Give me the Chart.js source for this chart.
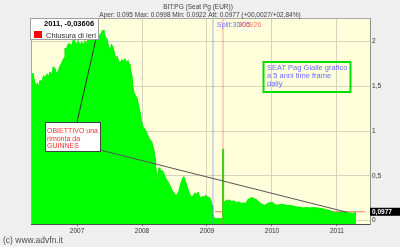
<!DOCTYPE html>
<html>
<head>
<meta charset="utf-8">
<script src="https://cdn.jsdelivr.net/npm/chart.js@4.4.0/dist/chart.umd.min.js"></script>
<style>
  html, body { margin: 0; padding: 0; background: #efefef; }
  canvas { display: block; }
</style>
</head>
<body>
<canvas id="myChart" width="400" height="247"></canvas>
<script>
// Daily closes of BIT:PG (decimal years / EUR)
let dates = [2006.292, 2006.31, 2006.323, 2006.345, 2006.369, 2006.39, 2006.41, 2006.431, 2006.46, 2006.485,
  2006.508, 2006.54, 2006.56, 2006.585, 2006.61, 2006.635, 2006.662, 2006.685, 2006.708, 2006.74,
  2006.769, 2006.8, 2006.815, 2006.831, 2006.86, 2006.892, 2006.92, 2006.945, 2006.969, 2007.0,
  2007.02, 2007.046, 2007.07, 2007.1, 2007.123, 2007.15, 2007.175, 2007.2, 2007.225, 2007.25,
  2007.277, 2007.3, 2007.325, 2007.354, 2007.38, 2007.4, 2007.415, 2007.44, 2007.462, 2007.485,
  2007.508, 2007.53, 2007.554, 2007.58, 2007.6, 2007.615, 2007.64, 2007.662, 2007.69, 2007.715,
  2007.738, 2007.76, 2007.785, 2007.8, 2007.815, 2007.83, 2007.846, 2007.86, 2007.877, 2007.9,
  2007.923, 2007.945, 2007.969, 2007.99, 2008.015, 2008.04, 2008.062, 2008.085, 2008.108, 2008.13,
  2008.154, 2008.17, 2008.185, 2008.2, 2008.208, 2008.22, 2008.231, 2008.245, 2008.262, 2008.275,
  2008.292, 2008.315, 2008.338, 2008.36, 2008.385, 2008.41, 2008.431, 2008.455, 2008.477, 2008.5,
  2008.523, 2008.545, 2008.569, 2008.59, 2008.615, 2008.63, 2008.646, 2008.66, 2008.677, 2008.7,
  2008.723, 2008.745, 2008.769, 2008.79, 2008.815, 2008.84, 2008.862, 2008.885, 2008.908, 2008.93,
  2008.954, 2008.975, 2009.0, 2009.025, 2009.046, 2009.065, 2009.077, 2009.088, 2009.1, 2009.15,
  2009.2, 2009.235, 2009.24, 2009.25, 2009.255, 2009.277, 2009.3, 2009.33, 2009.354, 2009.38,
  2009.41, 2009.431, 2009.46, 2009.485, 2009.508, 2009.54, 2009.56, 2009.585, 2009.61, 2009.635,
  2009.662, 2009.685, 2009.708, 2009.74, 2009.769, 2009.79, 2009.815, 2009.85, 2009.892, 2009.93,
  2009.969, 2010.015, 2010.045, 2010.077, 2010.12, 2010.169, 2010.22, 2010.277, 2010.33, 2010.385,
  2010.43, 2010.477, 2010.53, 2010.585, 2010.64, 2010.692, 2010.74, 2010.785, 2010.84, 2010.892,
  2010.93, 2010.969, 2011.0, 2011.046, 2011.08, 2011.123, 2011.16, 2011.2, 2011.25, 2011.292];
let prices = [1.68, 1.62, 1.65, 1.56, 1.50, 1.54, 1.49, 1.57, 1.55, 1.62,
  1.60, 1.64, 1.61, 1.66, 1.63, 1.72, 1.70, 1.64, 1.67, 1.73,
  1.77, 1.82, 1.93, 1.90, 1.97, 1.98, 1.95, 2.03, 2.00, 1.97,
  2.01, 1.95, 2.00, 1.96, 2.01, 1.98, 2.04, 2.01, 2.05, 2.02,
  2.06, 2.04, 2.09, 2.07, 2.11, 2.13, 2.10, 2.05, 2.03, 1.95,
  1.90, 1.97, 1.94, 1.86, 1.81, 1.84, 1.79, 1.76, 1.80, 1.78,
  1.81, 1.77, 1.79, 1.75, 1.73, 1.66, 1.62, 1.50, 1.43, 1.40,
  1.37, 1.30, 1.22, 1.12, 1.05, 1.03, 1.00, 0.96, 0.92, 0.90,
  0.87, 0.83, 0.78, 0.70, 0.62, 0.55, 0.47, 0.52, 0.59, 0.57,
  0.55, 0.56, 0.52, 0.48, 0.45, 0.42, 0.39, 0.35, 0.32, 0.30,
  0.28, 0.30, 0.33, 0.40, 0.45, 0.48, 0.49, 0.46, 0.42, 0.37,
  0.32, 0.28, 0.26, 0.28, 0.31, 0.29, 0.32, 0.27, 0.25, 0.27,
  0.26, 0.28, 0.27, 0.26, 0.25, 0.21, 0.17, 0.10, 0.03, 0.02,
  0.02, 0.02, 0.80, 0.80, 0.21, 0.21, 0.23, 0.22, 0.23, 0.21,
  0.22, 0.21, 0.20, 0.21, 0.20, 0.19, 0.20, 0.19, 0.21, 0.24,
  0.24, 0.26, 0.25, 0.24, 0.23, 0.21, 0.20, 0.18, 0.17, 0.19,
  0.20, 0.20, 0.18, 0.17, 0.18, 0.18, 0.17, 0.17, 0.16, 0.15,
  0.15, 0.14, 0.145, 0.14, 0.145, 0.14, 0.135, 0.13, 0.12, 0.11,
  0.10, 0.085, 0.09, 0.09, 0.095, 0.095, 0.09, 0.085, 0.08, 0.0977];

// hand drawn lines on the original chart
let trendX = [2007.354, 2011.15];
let trendY = [0.789, 0.093];
let leaderX = [2007.323, 2007.0];
let leaderY = [2.131, 1.10];
let closeX = [2009.123, 2011.431];
let lastClose = 0.0977;
let splitDate = 2009.092;
let markDate = 2009.246;

let xTicks = [2007, 2008, 2009, 2010, 2011];
let yTicks = [0, 0.5, 1, 1.5, 2];
let yMin = -0.039;
let yMax = 2.265;

function pts(xs, ys) {
  return xs.map((x, i) => ({ x: x, y: ys[i] }));
}

// background + annotations drawn straight on the canvas
const advfnPlugin = {
  id: 'advfn',
  beforeDraw(chart) {
    const ctx = chart.ctx;
    const a = chart.chartArea;
    ctx.save();
    ctx.fillStyle = '#efefef';
    ctx.fillRect(0, 0, chart.width, chart.height);
    ctx.fillStyle = '#ffffdc';
    ctx.fillRect(a.left, a.top, a.right - a.left, a.bottom - a.top);
    ctx.restore();
  },
  afterDraw(chart) {
    const ctx = chart.ctx;
    const a = chart.chartArea;
    const ys = chart.scales.y;
    ctx.save();
    // frame top/left
    ctx.strokeStyle = '#a8a8a8';
    ctx.lineWidth = 1;
    ctx.beginPath();
    ctx.moveTo(a.left + 0.5, a.bottom);
    ctx.lineTo(a.left + 0.5, a.top + 0.5);
    ctx.lineTo(a.right, a.top + 0.5);
    ctx.stroke();

    // titles
    ctx.fillStyle = '#404040';
    ctx.textAlign = 'center';
    ctx.textBaseline = 'alphabetic';
    ctx.font = '6.5px "Liberation Sans", Arial, sans-serif';
    ctx.fillText('BIT:PG (Seat Pg (EUR))', 198, 8.5);
    ctx.fillText('Aper: 0.095 Max: 0.0998 Min: 0.0922 Att: 0.0977 (+00,0027/+02,84%)', 200, 16.5);

    // footer
    ctx.textAlign = 'left';
    ctx.fillStyle = '#505050';
    ctx.font = '8.5px "Liberation Sans", Arial, sans-serif';
    ctx.fillText('(c) www.advfn.it', 3, 243);

    // legend box
    ctx.fillStyle = '#ffffff';
    ctx.fillRect(30, 18, 69, 22);
    ctx.strokeStyle = '#a0a0a0';
    ctx.strokeRect(30.5, 18.5, 68, 21);
    ctx.fillStyle = '#000000';
    ctx.font = 'bold 7.5px "Liberation Sans", Arial, sans-serif';
    ctx.fillText('2011, -0,03606', 44, 26);
    ctx.fillStyle = '#ff0000';
    ctx.fillRect(34, 31, 8, 7);
    ctx.fillStyle = '#303030';
    ctx.font = '7.5px "Liberation Sans", Arial, sans-serif';
    ctx.fillText('Chiusura di ieri', 46, 37.5);

    // split labels
    ctx.font = '7px "Liberation Sans", Arial, sans-serif';
    ctx.fillStyle = '#7070ff';
    ctx.fillText('Split:30/05', 217, 27);
    ctx.globalAlpha = 0.8;
    ctx.fillStyle = '#ff5050';
    ctx.fillText('30/5/26', 238, 27);
    ctx.globalAlpha = 1;

    // OBIETTIVO note
    ctx.fillStyle = '#ffffff';
    ctx.fillRect(45, 122, 56, 30);
    ctx.strokeStyle = '#404040';
    ctx.strokeRect(45.5, 122.5, 55, 29);
    ctx.fillStyle = '#ff3030';
    ctx.font = '7px "Liberation Sans", Arial, sans-serif';
    ctx.fillText('OBIETTIVO una', 47, 133);
    ctx.fillText('rimonta da', 47, 140.7);
    ctx.fillText('GUINNES', 47, 148.3);

    // SEAT note
    ctx.strokeStyle = '#00e000';
    ctx.lineWidth = 2;
    ctx.strokeRect(263.5, 62, 87, 30);
    ctx.fillStyle = '#6a6aff';
    ctx.font = '7.5px "Liberation Sans", Arial, sans-serif';
    ctx.fillText('SEAT Pag Gialle grafico', 267, 70);
    ctx.fillText('a 5 anni time frame', 267, 78);
    ctx.fillText('daily', 267, 86);

    // last price tag
    const yp = ys.getPixelForValue(lastClose);
    ctx.fillStyle = '#000000';
    ctx.fillRect(a.right, yp - 4, 30, 8);
    ctx.fillStyle = '#ffffff';
    ctx.font = 'bold 6.5px "Liberation Sans", Arial, sans-serif';
    ctx.textBaseline = 'middle';
    ctx.fillText(String(lastClose).replace('.', ','), a.right + 2, yp + 0.5);
    ctx.restore();
  }
};

const ctx = document.getElementById('myChart').getContext('2d');

const myChart = new Chart(ctx, {
  type: 'line',
  data: {
    datasets: [
      {
        // yesterday close, hidden behind the area
        data: pts(closeX, [lastClose, lastClose]),
        borderColor: '#ff7070',
        borderWidth: 1,
        pointRadius: 0,
        order: 20
      },
      {
        data: pts(dates, prices),
        borderColor: '#00f000',
        borderWidth: 1,
        backgroundColor: '#00ff00',
        fill: 'start',
        pointRadius: 0,
        tension: 0,
        order: 10
      },
      {
        data: pts([splitDate, splitDate], [yMin, yMax]),
        borderColor: 'rgba(120,120,255,0.6)',
        borderWidth: 1,
        pointRadius: 0,
        order: 5
      },
      {
        data: pts([markDate, markDate], [yMin, yMax]),
        borderColor: 'rgba(255,100,100,0.6)',
        borderWidth: 1,
        pointRadius: 0,
        order: 5
      },
      {
        data: pts(trendX, trendY),
        borderColor: '#555555',
        borderWidth: 1,
        pointRadius: 0,
        order: 1
      },
      {
        data: pts(leaderX, leaderY),
        borderColor: '#303030',
        borderWidth: 1,
        pointRadius: 0,
        order: 1
      }
    ]
  },
  options: {
    responsive: false,
    animation: false,
    devicePixelRatio: 1,
    layout: { padding: { left: 31, top: 18, right: 0, bottom: 0 } },
    plugins: {
      legend: { display: false },
      tooltip: { enabled: false },
      title: { display: false }
    },
    scales: {
      x: {
        type: 'linear',
        min: 2006.292,
        max: 2011.508,
        afterBuildTicks: (scale) => { scale.ticks = xTicks.map(v => ({ value: v })); },
        afterFit: (scale) => { scale.height = 23; },
        ticks: {
          callback: (v) => String(v),
          color: '#303030',
          font: { size: 6.5, family: '"Liberation Sans", Arial, sans-serif' },
          padding: 1,
          maxRotation: 0
        },
        grid: { color: '#d6d4c0', tickLength: 2, tickColor: '#606060' },
        border: { color: '#505050' }
      },
      y: {
        position: 'right',
        min: yMin,
        max: yMax,
        afterBuildTicks: (scale) => { scale.ticks = yTicks.map(v => ({ value: v })); },
        afterFit: (scale) => { scale.width = 30; },
        ticks: {
          callback: (v) => String(v).replace('.', ','),
          color: '#303030',
          font: { size: 6.5, family: '"Liberation Sans", Arial, sans-serif' },
          padding: 2
        },
        grid: { color: '#d6d4c0', drawTicks: false },
        border: { color: '#909090' }
      }
    }
  },
  plugins: [advfnPlugin]
});
</script>
</body>
</html>
